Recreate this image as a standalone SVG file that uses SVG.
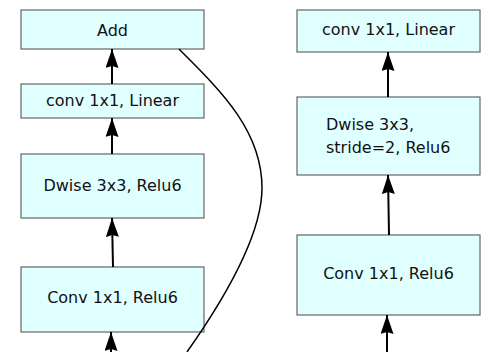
<svg xmlns="http://www.w3.org/2000/svg" width="500" height="352" viewBox="0 0 500 352">
<style>
.box{fill:#e0ffff;stroke:#666;stroke-width:1.2}
.t{font-family:"DejaVu Sans",sans-serif;font-size:16px;fill:#111}
.c{text-anchor:middle}
.a{stroke:#000;stroke-width:2;fill:none;marker-end:url(#ah)}
</style>
<defs>
<marker id="ah" markerUnits="userSpaceOnUse" markerWidth="19" markerHeight="13" viewBox="0 0 19 13" refX="19" refY="6.5" orient="auto">
<path d="M0,0 L19,6.5 L0,13 L2,6.5 Z" fill="#000"/>
</marker>
</defs>
<rect width="500" height="352" fill="#fff"/>
<g id="add"><rect class="box" x="21" y="10" width="183" height="39"/><text class="t c" x="112.5" y="36">Add</text></g>
<g id="lin1"><rect class="box" x="21" y="84" width="183" height="34"/><text class="t c" x="112.5" y="106">conv 1x1, Linear</text></g>
<g id="dw1"><rect class="box" x="21" y="154" width="183" height="64"/><text class="t c" x="112.5" y="191">Dwise 3x3, Relu6</text></g>
<g id="cv1"><rect class="box" x="21" y="267" width="183" height="65"/><text class="t c" x="112.5" y="303">Conv 1x1, Relu6</text></g>
<g id="lin2"><rect class="box" x="297" y="10" width="183" height="42"/><text class="t c" x="388.5" y="35">conv 1x1, Linear</text></g>
<g id="dw2"><rect class="box" x="297" y="97" width="183" height="78"/><text class="t" x="326" y="130">Dwise 3x3,</text><text class="t" x="326" y="153">stride=2, Relu6</text></g>
<g id="cv2"><rect class="box" x="297" y="235" width="183" height="80"/><text class="t c" x="388.5" y="279">Conv 1x1, Relu6</text></g>
<g id="connectors">
<line class="a" x1="112" y1="84" x2="112" y2="49"/>
<line class="a" x1="112" y1="154" x2="112" y2="118"/>
<line class="a" x1="113" y1="267" x2="112" y2="218"/>
<line class="a" x1="111" y1="352" x2="111" y2="332"/>
<line class="a" x1="388" y1="97" x2="388" y2="52"/>
<line class="a" x1="389" y1="235" x2="388" y2="175"/>
<line class="a" x1="387" y1="352" x2="387" y2="315"/>
<path d="M187,352 C225,298 262,235 262,188 C262,130 220,90 179,49" fill="none" stroke="#000" stroke-width="1.5"/>
</g>
</svg>
